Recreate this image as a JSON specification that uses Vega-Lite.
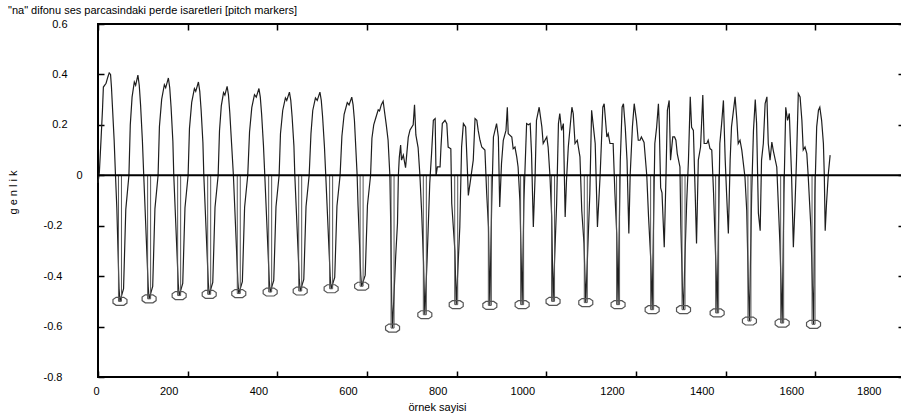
{
"$schema": "https://vega.github.io/schema/vega-lite/v6.json",
"autosize": {"type": "none"},
"padding": {"left": 98, "top": 24, "right": 0, "bottom": 41},
"width": 807,
"height": 353,
"config": {"view": {"stroke": "#000", "strokeWidth": 2}, "font": "Liberation Sans",
  "axis": {"labelFont": "Liberation Sans", "titleFont": "Liberation Sans", "labelColor": "#000", "titleColor": "#000", "labelFontSize": 11, "titleFontSize": 11, "titleFontWeight": "normal", "grid": false, "domain": false, "tickColor": "#000", "tickWidth": 1.5}},
"title": {"text": "\"na\" difonu ses parcasindaki perde isaretleri [pitch markers]", "anchor": "start", "frame": "group", "dx": -90, "offset": 2, "fontSize": 11, "fontWeight": "normal", "font": "Liberation Sans", "color": "#000"},
"datasets": {
"wave": [
{"x":0,"y":-0.03},{"x":3,"y":0.01},{"x":7,"y":0.15},{"x":10,"y":0.26},{"x":12,"y":0.35},{"x":18,"y":0.365},{"x":22,"y":0.39},{"x":25,"y":0.406},{"x":28,"y":0.4},{"x":30,"y":0.35},{"x":32,"y":0.28},{"x":36,"y":0.14},{"x":39,"y":0},{"x":42,"y":-0.13},{"x":47,"y":-0.45},{"x":49,"y":-0.5},
{"x":57,"y":-0.45},{"x":62,"y":-0.135},{"x":69,"y":0},{"x":72,"y":0.2},{"x":76,"y":0.31},{"x":81,"y":0.37},{"x":84,"y":0.357},{"x":89,"y":0.397},{"x":92,"y":0.357},{"x":95,"y":0.278},{"x":99,"y":0.139},{"x":102,"y":0},{"x":105,"y":-0.132},{"x":112,"y":-0.441},{"x":114,"y":-0.49},
{"x":122,"y":-0.441},{"x":127,"y":-0.132},{"x":134,"y":0},{"x":137,"y":0.193},{"x":142,"y":0.301},{"x":148,"y":0.359},{"x":151,"y":0.347},{"x":157,"y":0.386},{"x":160,"y":0.347},{"x":163,"y":0.27},{"x":167,"y":0.135},{"x":169,"y":0},{"x":172,"y":-0.129},{"x":179,"y":-0.429},{"x":181,"y":-0.477},
{"x":189,"y":-0.429},{"x":194,"y":-0.129},{"x":201,"y":0},{"x":204,"y":0.185},{"x":209,"y":0.289},{"x":215,"y":0.344},{"x":218,"y":0.333},{"x":224,"y":0.37},{"x":227,"y":0.333},{"x":230,"y":0.259},{"x":234,"y":0.13},{"x":236,"y":0},{"x":239,"y":-0.127},{"x":246,"y":-0.425},{"x":248,"y":-0.472},
{"x":256,"y":-0.425},{"x":261,"y":-0.127},{"x":268,"y":0},{"x":271,"y":0.177},{"x":275,"y":0.275},{"x":280,"y":0.328},{"x":283,"y":0.318},{"x":288,"y":0.353},{"x":291,"y":0.318},{"x":294,"y":0.247},{"x":298,"y":0.124},{"x":302,"y":0},{"x":305,"y":-0.127},{"x":312,"y":-0.422},{"x":314,"y":-0.469},
{"x":322,"y":-0.422},{"x":327,"y":-0.127},{"x":334,"y":0},{"x":338,"y":0.172},{"x":343,"y":0.268},{"x":349,"y":0.32},{"x":353,"y":0.31},{"x":359,"y":0.344},{"x":362,"y":0.31},{"x":365,"y":0.241},{"x":369,"y":0.12},{"x":372,"y":0},{"x":375,"y":-0.125},{"x":382,"y":-0.417},{"x":384,"y":-0.463},
{"x":392,"y":-0.417},{"x":397,"y":-0.125},{"x":404,"y":0},{"x":407,"y":0.165},{"x":412,"y":0.257},{"x":418,"y":0.307},{"x":421,"y":0.297},{"x":427,"y":0.33},{"x":430,"y":0.297},{"x":433,"y":0.231},{"x":437,"y":0.116},{"x":439,"y":0},{"x":442,"y":-0.124},{"x":449,"y":-0.413},{"x":451,"y":-0.459},
{"x":459,"y":-0.413},{"x":464,"y":-0.124},{"x":471,"y":0},{"x":475,"y":0.165},{"x":479,"y":0.257},{"x":485,"y":0.307},{"x":489,"y":0.297},{"x":495,"y":0.33},{"x":498,"y":0.297},{"x":501,"y":0.231},{"x":505,"y":0.116},{"x":508,"y":0},{"x":511,"y":-0.122},{"x":518,"y":-0.405},{"x":520,"y":-0.45},
{"x":528,"y":-0.405},{"x":533,"y":-0.122},{"x":540,"y":0},{"x":544,"y":0.155},{"x":549,"y":0.242},{"x":556,"y":0.288},{"x":560,"y":0.279},{"x":566,"y":0.31},{"x":569,"y":0.279},{"x":572,"y":0.217},{"x":575,"y":0.109},{"x":578,"y":0},{"x":580,"y":-0.119},{"x":586,"y":-0.396},{"x":588,"y":-0.44},
{"x":596,"y":-0.396},{"x":601,"y":-0.119},{"x":608,"y":0},{"x":611,"y":0.147},{"x":615,"y":0.2},{"x":620,"y":0.23},{"x":625,"y":0.26},{"x":628,"y":0.255},{"x":632,"y":0.28},{"x":636,"y":0.294},{"x":640,"y":0.24},{"x":643,"y":0.2},{"x":647,"y":0.14},{"x":651,"y":0},{"x":653,"y":-0.2},{"x":655,"y":-0.5},{"x":657,"y":-0.606},
{"x":664,"y":-0.32},{"x":668,"y":-0.19},{"x":670,"y":0},{"x":672,"y":0.07},{"x":675,"y":0.12},{"x":677,"y":0.06},{"x":681,"y":0.08},{"x":686,"y":0.03},{"x":688,"y":0.07},{"x":692,"y":0.15},{"x":696,"y":0.18},{"x":703,"y":0.2},{"x":706,"y":0.28},{"x":709,"y":0.16},{"x":714,"y":0.11},{"x":718,"y":0},{"x":722,"y":-0.15},{"x":726,"y":-0.34},{"x":729,"y":-0.553},
{"x":734,"y":-0.337},{"x":740,"y":-0.03},{"x":744,"y":0.086},{"x":748,"y":0.218},{"x":752,"y":0.225},{"x":754,"y":0},{"x":757,"y":0.033},{"x":763,"y":0.033},{"x":765,"y":0.112},{"x":768,"y":0.205},{"x":774,"y":0.218},{"x":778,"y":0.205},{"x":781,"y":0.112},{"x":787,"y":0.105},{"x":789,"y":-0.112},{"x":796,"y":-0.298},{"x":799,"y":-0.513},
{"x":807,"y":-0.205},{"x":811,"y":0.112},{"x":815,"y":0.205},{"x":820,"y":0.192},{"x":824,"y":0.02},{"x":826,"y":-0.08},{"x":830,"y":-0.03},{"x":837,"y":0.06},{"x":841,"y":0.225},{"x":845,"y":0.218},{"x":848,"y":0.178},{"x":852,"y":0.139},{"x":856,"y":0.112},{"x":863,"y":0.1},{"x":867,"y":-0.073},{"x":871,"y":-0.205},{"x":874,"y":-0.516},
{"x":878,"y":-0.126},{"x":882,"y":0.152},{"x":889,"y":0.205},{"x":893,"y":0.152},{"x":896,"y":-0.126},{"x":900,"y":0.047},{"x":904,"y":0.139},{"x":910,"y":0.178},{"x":913,"y":0.27},{"x":915,"y":0.165},{"x":923,"y":0.152},{"x":926,"y":0.105},{"x":930,"y":0.112},{"x":934,"y":0.073},{"x":937,"y":0.033},{"x":941,"y":-0.1},{"x":944,"y":-0.337},{"x":946,"y":-0.513},
{"x":950,"y":-0.1},{"x":956,"y":0.205},{"x":960,"y":0.2},{"x":964,"y":0.205},{"x":967,"y":0.086},{"x":971,"y":-0.205},{"x":975,"y":0},{"x":978,"y":0.218},{"x":984,"y":0.27},{"x":990,"y":0.192},{"x":993,"y":0.126},{"x":1001,"y":0.152},{"x":1004,"y":0.112},{"x":1008,"y":0},{"x":1012,"y":-0.165},{"x":1015,"y":-0.5},
{"x":1023,"y":-0.112},{"x":1027,"y":0.205},{"x":1030,"y":0.245},{"x":1034,"y":0.178},{"x":1038,"y":0.205},{"x":1042,"y":-0.165},{"x":1045,"y":-0.02},{"x":1049,"y":0.112},{"x":1057,"y":0.27},{"x":1060,"y":0.245},{"x":1064,"y":0.126},{"x":1069,"y":0.139},{"x":1075,"y":0.073},{"x":1079,"y":-0.14},{"x":1084,"y":-0.27},{"x":1088,"y":-0.505},
{"x":1097,"y":-0.073},{"x":1101,"y":0.258},{"x":1105,"y":0.192},{"x":1109,"y":0.126},{"x":1114,"y":-0.205},{"x":1120,"y":0},{"x":1126,"y":0.27},{"x":1129,"y":0.284},{"x":1132,"y":0.218},{"x":1135,"y":0.152},{"x":1138,"y":0.165},{"x":1142,"y":0.126},{"x":1149,"y":0.126},{"x":1153,"y":-0.073},{"x":1157,"y":-0.231},{"x":1160,"y":-0.513},
{"x":1165,"y":0.06},{"x":1169,"y":0.27},{"x":1172,"y":0.284},{"x":1176,"y":0.192},{"x":1180,"y":0.06},{"x":1184,"y":-0.231},{"x":1187,"y":0},{"x":1192,"y":0.192},{"x":1196,"y":0.284},{"x":1201,"y":0.218},{"x":1205,"y":0.139},{"x":1209,"y":0.139},{"x":1212,"y":0.152},{"x":1218,"y":0.13},{"x":1224,"y":0},{"x":1228,"y":-0.165},{"x":1233,"y":-0.337},{"x":1236,"y":-0.533},
{"x":1242,"y":0.126},{"x":1246,"y":0.19},{"x":1250,"y":0.284},{"x":1252,"y":0.19},{"x":1255,"y":-0.05},{"x":1258,"y":-0.07},{"x":1263,"y":-0.285},{"x":1267,"y":0.007},{"x":1270,"y":0.258},{"x":1274,"y":0.297},{"x":1277,"y":0.06},{"x":1282,"y":0.152},{"x":1286,"y":0.152},{"x":1289,"y":0.139},{"x":1292,"y":0.086},{"x":1298,"y":0.033},{"x":1300,"y":-0.2},{"x":1304,"y":-0.47},{"x":1306,"y":-0.533},
{"x":1309,"y":-0.337},{"x":1313,"y":-0.11},{"x":1317,"y":0.06},{"x":1321,"y":0.311},{"x":1324,"y":0.19},{"x":1328,"y":0.178},{"x":1332,"y":-0.07},{"x":1335,"y":-0.27},{"x":1339,"y":0.06},{"x":1344,"y":0.112},{"x":1349,"y":0.318},{"x":1352,"y":0.126},{"x":1358,"y":0.126},{"x":1361,"y":0.139},{"x":1365,"y":0.106},{"x":1369,"y":0.1},{"x":1373,"y":-0.07},{"x":1379,"y":-0.4},{"x":1381,"y":-0.546},
{"x":1384,"y":-0.205},{"x":1387,"y":0.126},{"x":1391,"y":0.205},{"x":1395,"y":0.297},{"x":1399,"y":0.06},{"x":1402,"y":-0.07},{"x":1406,"y":-0.231},{"x":1410,"y":0.06},{"x":1413,"y":0.192},{"x":1421,"y":0.311},{"x":1425,"y":0.218},{"x":1428,"y":0.126},{"x":1432,"y":0.139},{"x":1436,"y":0.1},{"x":1443,"y":-0.007},{"x":1447,"y":-0.14},{"x":1451,"y":-0.47},{"x":1453,"y":-0.578},
{"x":1458,"y":-0.073},{"x":1462,"y":0.178},{"x":1466,"y":0.3},{"x":1469,"y":0.205},{"x":1473,"y":-0.15},{"x":1477,"y":-0.22},{"x":1480,"y":0.06},{"x":1484,"y":0.126},{"x":1488,"y":0.284},{"x":1492,"y":0.311},{"x":1495,"y":0.126},{"x":1499,"y":0.06},{"x":1503,"y":0.132},{"x":1506,"y":0.1},{"x":1514,"y":0.033},{"x":1518,"y":-0.14},{"x":1521,"y":-0.27},{"x":1526,"y":-0.586},
{"x":1530,"y":-0.073},{"x":1534,"y":0.27},{"x":1538,"y":0.218},{"x":1542,"y":0.245},{"x":1547,"y":0},{"x":1551,"y":-0.285},{"x":1555,"y":-0.1},{"x":1558,"y":0.06},{"x":1562,"y":0.324},{"x":1566,"y":0.311},{"x":1570,"y":0.218},{"x":1573,"y":0.1},{"x":1577,"y":0.112},{"x":1581,"y":0.086},{"x":1584,"y":0},{"x":1590,"y":-0.205},{"x":1594,"y":-0.47},{"x":1596,"y":-0.591},
{"x":1599,"y":-0.073},{"x":1603,"y":0.192},{"x":1607,"y":0.258},{"x":1610,"y":0.27},{"x":1614,"y":0.218},{"x":1618,"y":0.126},{"x":1620,"y":0},{"x":1622,"y":-0.22},{"x":1625,"y":-0.11},{"x":1629,"y":0.006},{"x":1633,"y":0.08}
],
"marks": [
{"x":49,"y":-0.5},{"x":114,"y":-0.49},{"x":181,"y":-0.477},{"x":248,"y":-0.472},{"x":314,"y":-0.469},{"x":384,"y":-0.463},{"x":451,"y":-0.459},{"x":520,"y":-0.45},{"x":588,"y":-0.44},{"x":657,"y":-0.606},{"x":729,"y":-0.553},{"x":799,"y":-0.513},{"x":874,"y":-0.516},{"x":946,"y":-0.513},{"x":1015,"y":-0.5},{"x":1088,"y":-0.505},{"x":1160,"y":-0.513},{"x":1236,"y":-0.533},{"x":1306,"y":-0.533},{"x":1381,"y":-0.546},{"x":1453,"y":-0.578},{"x":1526,"y":-0.586},{"x":1596,"y":-0.591}
]
},
"layer": [
{"data": {"name": "wave"},
 "mark": {"type": "line", "color": "#1e1e1e", "strokeWidth": 1.2},
 "encoding": {
  "x": {"field": "x", "type": "quantitative", "scale": {"domain": [0, 1800], "nice": false, "padding": 0},
    "axis": {"orient": "bottom", "values": [0,200,400,600,800,1000,1200,1400,1600,1800], "tickSize": -6, "labelPadding": 14, "labelExpr": "toString(datum.value)",
      "labelOffset": {"condition": [{"test": "datum.value == 0", "value": -5}, {"test": "datum.value < 1000", "value": -19}], "value": -24},
      "title": "örnek sayisi", "titleX": 339, "titleY": 30, "titleBaseline": "middle", "titleAlign": "center"}},
  "y": {"field": "y", "type": "quantitative", "scale": {"domain": [-0.8, 0.6], "nice": false, "zero": false, "padding": 0},
    "axis": {"orient": "left", "values": [-0.8,-0.6,-0.4,-0.2,0,0.2,0.4,0.6], "tickSize": -6, "labelBaseline": "middle", "labelExpr": "toString(round(datum.value*10)/10)",
      "labelPadding": {"condition": [{"test": "datum.value == 0", "value": 22}, {"test": "datum.value < 0", "value": 42}], "value": 37},
      "title": "g e n l i k", "titleX": -85, "titleY": 168, "titleAngle": 270, "titleBaseline": "middle", "titleAlign": "center"}}
 }},
{"data": {"name": "marks"},
 "mark": {"type": "bar", "orient": "vertical", "filled": false, "color": "#555", "size": 3, "strokeWidth": 1},
 "encoding": {
  "x": {"field": "x", "type": "quantitative", "axis": null},
  "y": {"field": "y", "type": "quantitative", "axis": null}
 }},
{"data": {"name": "marks"},
 "mark": {"type": "point", "shape": "M-0.55,-0.57L0.55,-0.57L1,-0.25L1,0.25L0.55,0.57L-0.55,0.57L-1,0.25L-1,-0.25Z", "filled": false, "color": "#555", "size": 196, "strokeWidth": 1.2, "opacity": 1},
 "encoding": {
  "x": {"field": "x", "type": "quantitative", "axis": {"orient": "top", "values": [0,200,400,600,800,1000,1200,1400,1600,1800], "tickSize": -6, "labels": false, "title": null}},
  "y": {"field": "y", "type": "quantitative", "axis": {"orient": "right", "values": [-0.8,-0.6,-0.4,-0.2,0,0.2,0.4,0.6], "tickSize": -7, "labels": false, "title": null}}
 }},
{"data": {"values": [{}]},
 "mark": {"type": "rule", "color": "#000", "strokeWidth": 2},
 "encoding": {"y": {"datum": 0, "type": "quantitative", "axis": null}}}
],
"resolve": {"axis": {"x": "independent", "y": "independent"}}
}
